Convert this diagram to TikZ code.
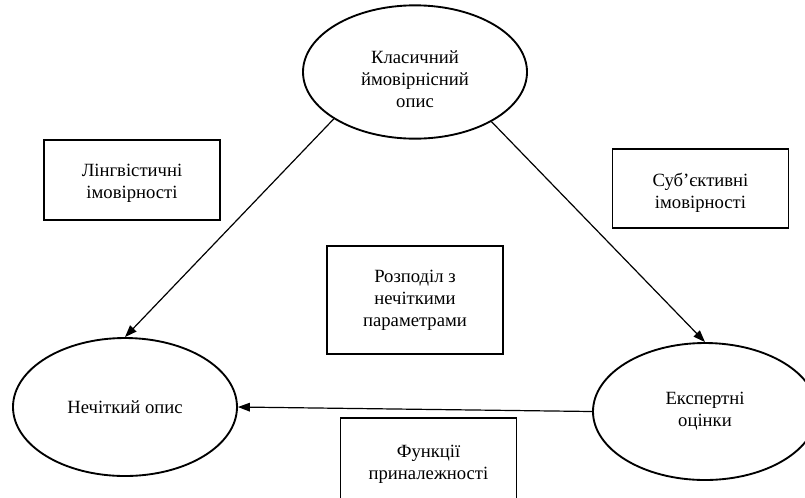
\documentclass[tikz,border=0pt]{standalone}
\usepackage{fontspec}
\setmainfont{Liberation Serif}
\usetikzlibrary{shapes.geometric,arrows.meta}
\begin{document}
\begin{tikzpicture}[x=0.75pt,y=-0.75pt,
  every node/.style={font=\fontsize{14pt}{16.5pt}\selectfont, align=center, inner sep=0pt},
  oval/.style={draw, ellipse, line width=1.4pt, minimum width=168pt},
  tbox/.style={draw, rectangle, line width=1.3pt, minimum width=132pt},
  conn/.style={line width=0.9pt, -{Triangle[length=9pt,width=6.5pt]}}]
\path[use as bounding box, clip] (0,0) rectangle (805,497);
\node[oval, minimum height=100pt] (top) at (415,72) {};
\node (toptext) at (415,79) {Класичний\\ймовірнісний\\опис};
\node[oval, minimum height=103.5pt] (left) at (125,407) {Нечіткий опис};
\node[oval, minimum height=102.75pt] (right) at (705,411.5) {Експертні\\оцінки};
\node[tbox, minimum height=60pt] (ling) at (132,180) {};
\node (lingtext) at (132,183) {Лінгвістичні\\імовірності};
\node[tbox, minimum height=59pt] (subj) at (700.5,188.5) {};
\node (subjtext) at (700.5,193) {Суб’єктивні\\імовірності};
\node[tbox, minimum height=81pt] (rozp) at (415,300) {Розподіл з\\нечіткими\\параметрами};
\node[tbox, minimum height=69pt] (func) at (428.5,464) {Функції\\приналежності};
\draw[conn] (top.210) -- (left.north);
\draw[conn] (top.327) -- (right.north);
\draw[conn] (right.west) -- (left.east);
\end{tikzpicture}
\end{document}
